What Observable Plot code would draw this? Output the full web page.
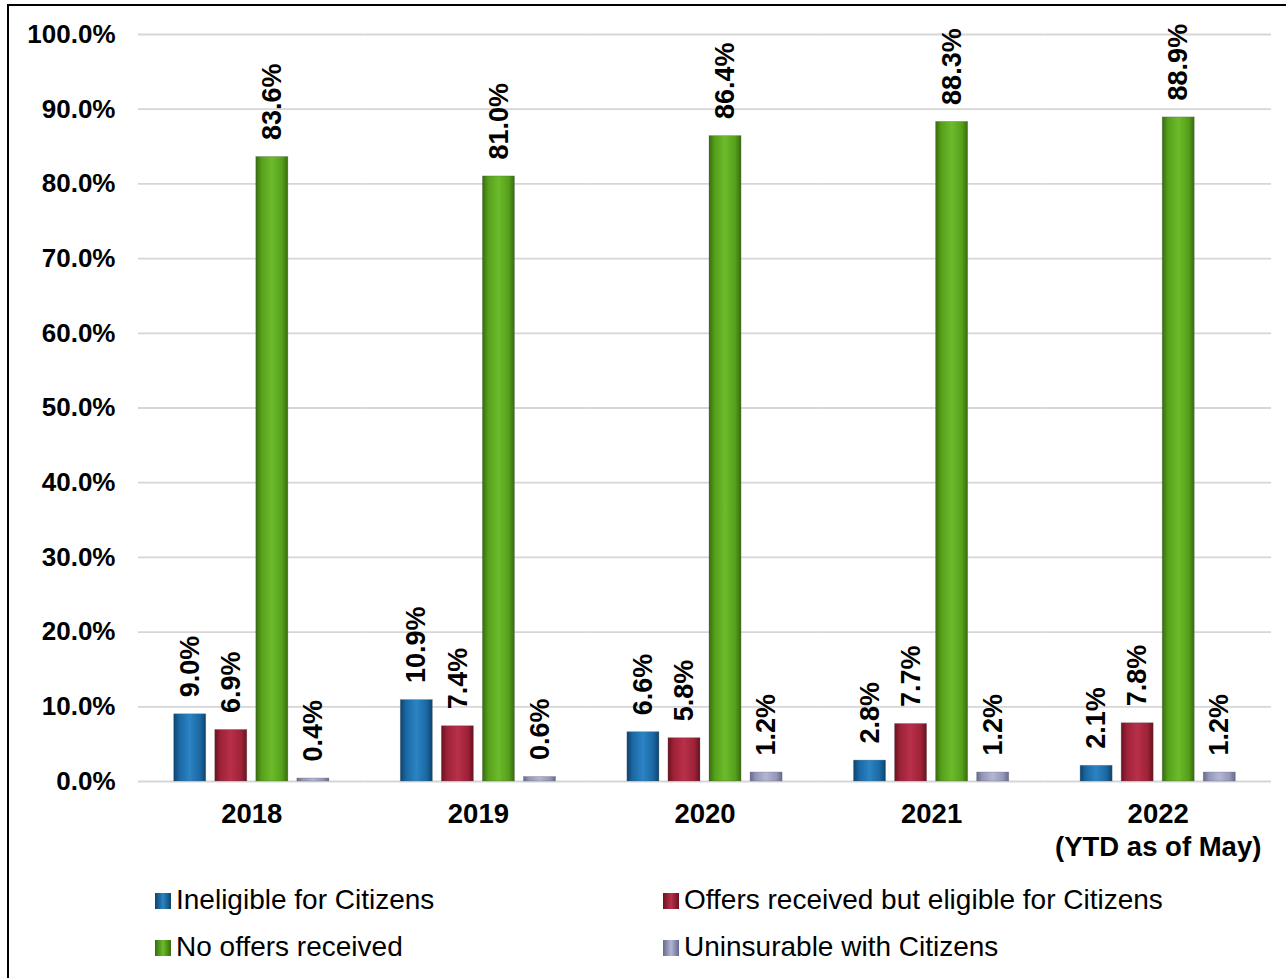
<!DOCTYPE html>
<html>
<head>
<meta charset="utf-8">
<script src="https://cdn.jsdelivr.net/npm/d3@7"></script>
<script src="https://cdn.jsdelivr.net/npm/@observablehq/plot@0.6"></script>
<style>
  html, body { margin: 0; padding: 0; background: #fff; overflow: hidden; width: 1286px; height: 978px; }
  #frame { position: absolute; left: 7px; top: 4px; width: 1300px; height: 1000px; border: 2px solid #000; box-sizing: border-box; }
  #chart { position: absolute; left: 0; top: 0; }
  #chart svg text { font-family: "Liberation Sans", Arial, sans-serif; font-weight: bold; fill: #000; }
  .leg { position: absolute; font-family: "Liberation Sans", Arial, sans-serif; font-size: 28px; color: #000; white-space: nowrap; line-height: 28px; }
  .sw { position: absolute; width: 16px; height: 16px; }
</style>
</head>
<body>
<div id="frame"></div>
<div id="chart"></div>
<div id="legend"></div>
<script>
// ---- data ----
const years = ["2018", "2019", "2020", "2021", "2022"];
const yearLabels = ["2018", "2019", "2020", "2021", "2022\n(YTD as of May)"];
const seriesNames = [
  "Ineligible for Citizens",
  "Offers received but eligible for Citizens",
  "No offers received",
  "Uninsurable with Citizens"
];
const ineligible = [9.0, 10.9, 6.6, 2.8, 2.1];
const offersEligible = [6.9, 7.4, 5.8, 7.7, 7.8];
const noOffers = [83.6, 81.0, 86.4, 88.3, 88.9];
const uninsurable = [0.4, 0.6, 1.2, 1.2, 1.2];
const yTicks = [0, 10, 20, 30, 40, 50, 60, 70, 80, 90, 100];

const seriesValues = [ineligible, offersEligible, noOffers, uninsurable];
const data = [];
years.forEach((yr, i) => {
  seriesNames.forEach((s, j) => data.push({year: yr, series: s, value: seriesValues[j][i]}));
});

// gradient colours (dark edge, mid, light centre)
const grads = [
  ["#0c446f", "#1b68a3", "#2b84c4"],
  ["#6a1220", "#9e2238", "#b8304a"],
  ["#386c0e", "#56a01b", "#6cbb2b"],
  ["#666a8c", "#9597bb", "#b3b6d3"]
];

const labelMap = new Map(years.map((y, i) => [y, yearLabels[i]]));

const chart = Plot.plot({
  width: 1286,
  height: 870,
  marginLeft: 138,
  marginRight: 15,
  marginTop: 34,
  marginBottom: 89,
  fx: {domain: years, padding: 0, round: false, label: null},
  x: {domain: seriesNames, paddingInner: 0.22, paddingOuter: 0.87, round: false, axis: null},
  y: {domain: [0, 100], axis: null},
  color: {domain: seriesNames, range: seriesNames.map((_, i) => `url(#grad${i})`)},
  marks: [
    Plot.gridY(yTicks, {stroke: "#d6d6d6", strokeOpacity: 1, strokeWidth: 1.8}),
    Plot.axisY(yTicks, {
      tickSize: 0, tickPadding: 23, fontSize: 26,
      tickFormat: d => d.toFixed(1) + "%", label: null
    }),
    Plot.axisFx({
      anchor: "bottom", tickSize: 0, tickPadding: 18, fontSize: 27.5,
      lineHeight: 1.2, label: null,
      tickFormat: d => labelMap.get(d)
    }),
    Plot.barY(data, {
      fx: "year", x: "series", y: "value", fill: "series",
      stroke: "#555", strokeOpacity: 0.35, strokeWidth: 0.8
    }),
    Plot.text(data, {
      fx: "year", x: "series", y: "value",
      text: d => d.value.toFixed(1) + "%",
      rotate: -90, textAnchor: "start", dy: -17,
      fontSize: 27, fontWeight: "bold"
    })
  ]
});

// add gradient defs
const defs = d3.select(chart).insert("defs", ":first-child");
grads.forEach((g, i) => {
  const lg = defs.append("linearGradient").attr("id", `grad${i}`)
    .attr("x1", "0").attr("x2", "1").attr("y1", "0").attr("y2", "0");
  [[0, g[0]], [0.18, g[1]], [0.5, g[2]], [0.82, g[1]], [1, g[0]]].forEach(([o, c]) => {
    lg.append("stop").attr("offset", o).attr("stop-color", c);
  });
});

document.getElementById("chart").appendChild(chart);

// legend
const legend = document.getElementById("legend");
const legPos = [
  {left: 155, top: 901},
  {left: 663, top: 901},
  {left: 155, top: 948},
  {left: 663, top: 948}
];
seriesNames.forEach((s, i) => {
  const p = legPos[i];
  const g = grads[i];
  const sw = document.createElement("div");
  sw.className = "sw";
  sw.style.left = p.left + "px";
  sw.style.top = (p.top - 8) + "px";
  sw.style.background = `linear-gradient(90deg, ${g[0]}, ${g[2]} 50%, ${g[0]})`;
  legend.appendChild(sw);
  const t = document.createElement("div");
  t.className = "leg";
  t.style.left = (p.left + 21) + "px";
  t.style.top = (p.top - 15) + "px";
  t.textContent = s;
  legend.appendChild(t);
});
</script>
</body>
</html>
